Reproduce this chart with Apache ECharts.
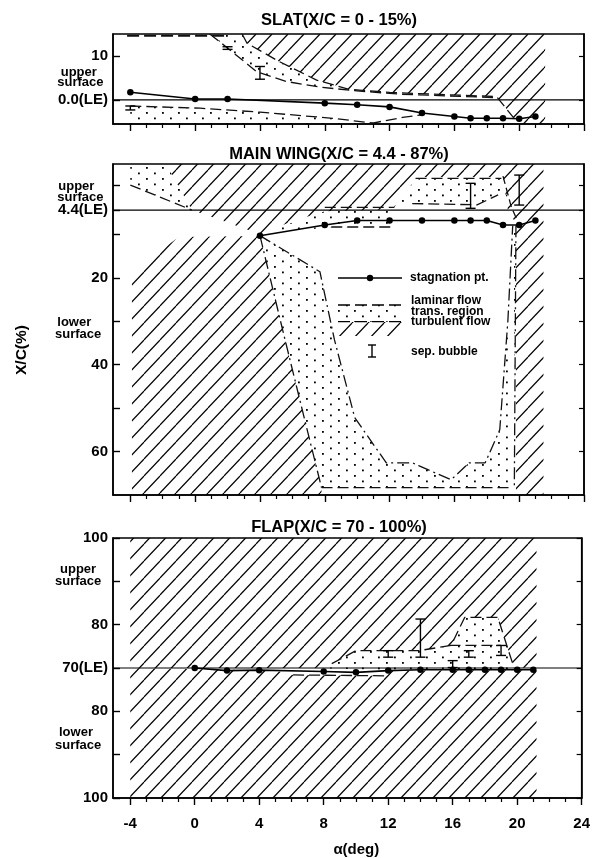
<!DOCTYPE html>
<html><head><meta charset="utf-8">
<script src="https://cdn.jsdelivr.net/npm/echarts@6/dist/echarts.min.js"></script>
<style>html,body{margin:0;padding:0;background:#fff}#c{width:593px;height:858px}</style>
</head><body><div id="c"></div><script>
// ---------------- tick values / labels ----------------
const alphaTicks = [-4,0,4,8,12,16,20,24];
const alphaMinorTicks = [-3,-2,-1,1,2,3,5,6,7,9,10,11,13,14,15,17,18,19,21,22,23];
const slatTicks = [0,10];
const slatLabelValues = [0,10];
const slatTickLabels = ['0.0(LE)','10'];
const mainTicks = [-1.2,4.4,10,20,30,40,50,60];
const mainLabelValues = [4.4,20,40,60];
const mainTickLabels = ['4.4(LE)','20','40','60'];
const flapTicks = [-30,-20,-10,0,10,20,30];
const flapLabelValues = [-30,-10,0,10,30];
const flapTickLabels = ['100','80','70(LE)','80','100'];
const panelTitles = ['SLAT(X/C = 0 - 15%)','MAIN WING(X/C = 4.4 - 87%)','FLAP(X/C = 70 - 100%)'];

// ---------------- stagnation points ----------------
const slatStagAlpha = [-4,0,2,8,10,12,14,16,17,18,19,20,21];
const slatStagX     = [1.75,0.2,0.2,-0.75,-1.1,-1.6,-3.0,-3.8,-4.2,-4.2,-4.2,-4.3,-3.8];
const mainStagAlpha = [4,8,10,12,14,16,17,18,19,20,21];
const mainStagX     = [10.3,7.85,6.8,6.8,6.8,6.8,6.8,6.8,7.85,7.85,6.8];
const flapStagAlpha = [0,2,4,8,10,12,14,16,17,18,19,20,21];
const flapStagX     = [0,-0.6,-0.5,-0.8,-1.0,-0.6,-0.4,-0.4,-0.4,-0.4,-0.4,-0.4,-0.4];

// ---------------- separation bubbles [alpha, from, to] ----------------
const slatBubbles = [[-4,-1.4,-2.3],[2,12.1,11.5],[4,7.6,4.7]];
const mainBubbles = [[17,-1.75,4.0],[20,-3.65,3.25]];
const flapBubbles = [[12,4.0,2.5],[14,11.3,2.5],[16,1.7,0.1],[17,4.0,2.5],[19,5.2,2.9]];

// ---------------- SLAT regions [alpha, x/c] ----------------
const slatTurbulent = [[2.9,15],[3.2,12.9],[5.2,8.7],[7.5,4.5],[9.5,2.4],[12,1.7],[14.7,1.3],[18.6,0.75],[19.7,-4.3],[20.1,-5.5],[21.6,-5.5],[21.6,15]];
const slatTransUpper = [[0.9,15],[1.9,12.1],[3.8,6.4],[5.6,4.2],[7.7,2.9],[9.8,2.1],[12.6,1.3],[18.6,0.5],[18.6,0.75],[14.7,1.3],[12,1.7],[9.5,2.4],[7.5,4.5],[5.2,8.7],[3.2,12.9],[2.9,15]];
const slatTransLower = [[-4,-1.4],[0.3,-1.9],[4,-2.8],[8.5,-4.2],[11,-5.5],[-4,-5.5]];
const slatTopDash = [[-4.2,14.6],[2.0,14.6]];
const slatTransStartLine = [[0.9,15],[1.9,12.1],[3.8,6.4],[5.6,4.2],[7.7,2.9],[9.8,2.1],[12.6,1.3],[18.6,0.5]];
const slatTurbEdgeLine = [[2.9,15],[3.2,12.9],[5.2,8.7],[7.5,4.5],[9.5,2.4],[12,1.7],[14.7,1.3],[18.6,0.75],[19.7,-4.3]];
const slatLowerLine = [[-4,-1.4],[0.3,-1.9],[4,-2.8],[8.5,-4.2],[11,-5.3]];
const slatLowerLine2 = [[10.8,-5.4],[12.8,-4.0],[14,-3.4]];

// ---------------- MAIN WING regions (lower-surface x/c downwards; upper = 8.8 - x/c) ----------------
const mainTurbulentUpper = [[-1.8,-6.2],[-0.2,4.4],[4,9.9],[6,7.0],[8,4.7],[12,4.3],[13.2,-1],[14,-3.2],[19,-3.2],[19.3,4.4],[19.8,7.5],[19.8,70],[21.5,70],[21.5,-6.2]];
const mainTurbulentLower = [[-3.9,18.5],[-1,10.6],[4,10.4],[5.4,32],[6.65,51],[7.8,68.3],[7.8,70],[-3.9,70]];
const mainTransTopLeft = [[-4,-6.2],[-1.8,-6.2],[-0.2,4.4],[-4,-1.35]];
const mainTransUpperRight = [[12.2,4.0],[13.2,-1],[14,-3.2],[19,-3.2],[19.3,2.0],[18.7,0.9],[17.4,3.2],[12.5,3.0]];
const mainTransNose = [[4,10.3],[8,8.4],[12,8.2],[12.3,4.3],[8,4.7],[4,9.9]];
const mainTransLower = [[4,10.3],[5.4,32],[6.65,51],[7.8,68.3],[19.6,68.3],[19.8,7.9],[19.6,8],[19.3,30],[18.8,55],[17.9,62.6],[16.9,62.6],[15.8,66.5],[13.4,62.6],[11.8,62.6],[9.85,52.2],[8.6,34.3],[7.7,18.6]];
const mainLaminarEdge = [[4,10.3],[7.7,18.6],[8.6,34.3],[9.85,52.2],[11.8,62.6],[13.4,62.6],[15.8,66.5],[16.9,62.6],[17.9,62.6],[18.8,55],[19.3,30],[19.6,8]];
const mainTurbEdge = [[4,10.3],[5.4,32],[6.65,51],[7.8,68.3]];
const mainBottomLine = [[7.8,68.3],[19.6,68.3]];
const mainRightLine = [[19.8,7.9],[19.7,68.3]];
const mainTopLeftLine = [[-4,-1.35],[-0.2,4.4]];
const mainNoseUpperLine = [[8,3.8],[12.3,3.8]];
const mainNoseLowerLine = [[8.4,8.3],[12.3,8.3]];
const mainUpperRightTop = [[13.6,-2.9],[18.9,-2.9]];
const mainUpperRightBottom = [[13.4,2.9],[17.4,3.2],[18.7,0.9]];
const mainVLine = [[19.0,-3.4],[19.5,3.5],[19.9,7.0]];

// ---------------- FLAP regions (upper positive, lower negative) ----------------
const flapTurbulentUpper = [[-4,30],[21.2,30],[21.2,0],[19.8,0.1],[19.1,8.2],[18.8,11.7],[16.75,11.7],[15.9,5.2],[13.9,4.0],[10,4.0],[8.5,1.0],[7.5,0],[-4,0]];
const flapTurbulentLower = [[-4,0],[5,-0.6],[6.1,-1.6],[11.9,-1.8],[12.2,-0.6],[21.2,-0.5],[21.2,-30],[-4,-30]];
const flapTrans = [[7.5,0],[8.5,1.0],[10,4.0],[13.9,4.0],[15.9,5.2],[16.75,11.7],[18.8,11.7],[19.1,8.2],[19.8,0.1],[19.8,-0.4],[12.2,-0.6]];
const flapUpperLine = [[8.5,1.0],[10,4.0],[13.9,4.0],[15.9,5.2],[16.75,11.7],[18.8,11.7],[19.1,8.2],[19.8,0.1]];
const flapInnerLine = [[15.8,5.2],[19,5.2]];
const flapLowerLine = [[6.1,-1.6],[11.9,-1.8]];

// ---------------- rendering ----------------
const FONT = '"Liberation Sans", Arial, Helvetica, sans-serif';
const X_MIN = -5.07, X_MAX = 24;
const LE = [0, 4.4, 0];

function makeHatch(){
  const w=16,h=17,c=document.createElement('canvas');c.width=w;c.height=h;
  const g=c.getContext('2d');g.strokeStyle='#000';g.lineWidth=1.2;
  for(let k=-1;k<=1;k++){g.beginPath();g.moveTo(k*w,h);g.lineTo(k*w+w,0);g.stroke();}
  return {image:c,repeat:'repeat'};
}
function makeDots(){
  const w=16,h=11,c=document.createElement('canvas');c.width=w;c.height=h;
  const g=c.getContext('2d');g.fillStyle='#000';
  g.fillRect(2,2,1.8,1.8);g.fillRect(10,7.5,1.8,1.8);
  return {image:c,repeat:'repeat'};
}
const HATCH=makeHatch(), DOTS=makeDots();

function poly(g,pts,fill,z){
  return {type:'custom',xAxisIndex:g,yAxisIndex:g,silent:true,clip:true,z:z||1,
    data:[[pts[0][0],pts[0][1]]],
    renderItem:(p,api)=>({type:'polygon',shape:{points:pts.map(q=>api.coord(q))},style:{fill:fill,stroke:null}})};
}
function dline(g,pts,dash,w){
  return {type:'line',xAxisIndex:g,yAxisIndex:g,silent:true,symbol:'none',z:3,
    data:pts,lineStyle:{color:'#111',width:w||1.3,type:dash||[11,5]},animation:false};
}
function stag(g,al,xs){
  return {type:'line',xAxisIndex:g,yAxisIndex:g,silent:true,symbol:'circle',symbolSize:6.5,z:5,
    data:al.map((a,i)=>[a,xs[i]]),lineStyle:{color:'#000',width:1.6},itemStyle:{color:'#000'}};
}
function bubbles(g,arr){
  return {type:'custom',xAxisIndex:g,yAxisIndex:g,silent:true,z:6,data:arr,encode:{x:0,y:[1,2]},
    renderItem:(p,api)=>{
      const a=api.coord([api.value(0),api.value(1)]),b=api.coord([api.value(0),api.value(2)]),w=5;
      const st={stroke:'#000',lineWidth:1.4};
      return {type:'group',children:[
        {type:'line',shape:{x1:a[0],y1:a[1],x2:b[0],y2:b[1]},style:st},
        {type:'line',shape:{x1:a[0]-w,y1:a[1],x2:a[0]+w,y2:a[1]},style:st},
        {type:'line',shape:{x1:b[0]-w,y1:b[1],x2:b[0]+w,y2:b[1]},style:st}]};
    }};
}
function leLine(g){
  return {type:'line',xAxisIndex:g,yAxisIndex:g,silent:true,symbol:'none',z:2,
    data:[[X_MIN,LE[g]],[X_MAX,LE[g]]],lineStyle:{color:'#000',width:1.2}};
}

const grids=[
  {left:113,width:471,top:34,height:90},
  {left:113,width:471,top:164,height:331},
  {left:113,width:471,top:538,height:260}
].map(o=>Object.assign(o,{show:true,borderColor:'#000',borderWidth:1.5,backgroundColor:'transparent'}));

const yCfg=[
  {min:-5.5,max:15,inverse:false,ticks:slatTicks,lv:slatLabelValues,lt:slatTickLabels},
  {min:-6.2,max:70,inverse:true,ticks:mainTicks,lv:mainLabelValues,lt:mainTickLabels},
  {min:-30,max:30,inverse:false,ticks:flapTicks,lv:flapLabelValues,lt:flapTickLabels}
];

const LBL={color:'#000',fontSize:15,fontWeight:'bold',fontFamily:FONT};
const xAxis=[],yAxis=[];
for(let g=0;g<3;g++){
  xAxis.push({type:'value',gridIndex:g,min:X_MIN,max:X_MAX,position:'bottom',
    axisLine:{show:true,onZero:false,lineStyle:{color:'#000',width:1.5}},
    axisTick:{show:true,inside:false,length:7,customValues:alphaTicks,lineStyle:{color:'#000',width:1.4}},
    axisLabel:Object.assign({show:g===2,customValues:alphaTicks,margin:18,showMinLabel:true,showMaxLabel:true},LBL),
    splitLine:{show:false},
    name:g===2?'α(deg)':'',nameLocation:'middle',nameGap:44,
    nameTextStyle:Object.assign({padding:[0,0,0,18]},LBL)});
}
for(let g=0;g<3;g++){
  xAxis.push({type:'value',gridIndex:g,min:X_MIN,max:X_MAX,position:'bottom',
    axisLine:{show:false,onZero:false},
    axisTick:{show:true,inside:false,length:4,customValues:alphaMinorTicks,lineStyle:{color:'#000',width:1.2}},
    axisLabel:{show:false},splitLine:{show:false}});
}
for(let g=0;g<3;g++){
  const c=yCfg[g];
  yAxis.push({type:'value',gridIndex:g,min:c.min,max:c.max,inverse:c.inverse,position:'left',
    axisLine:{show:true,onZero:false,lineStyle:{color:'#000',width:1.5}},
    axisTick:{show:true,inside:true,length:7,customValues:c.ticks,lineStyle:{color:'#000',width:1.4}},
    axisLabel:Object.assign({show:true,customValues:c.lv,margin:5,showMinLabel:true,showMaxLabel:true,
      formatter:v=>{const i=c.lv.findIndex(q=>Math.abs(q-v)<1e-6);return i>=0?c.lt[i]:'';}},LBL),
    splitLine:{show:false}});
}
for(let g=0;g<3;g++){
  const c=yCfg[g];
  yAxis.push({type:'value',gridIndex:g,min:c.min,max:c.max,inverse:c.inverse,position:'right',
    axisLine:{show:true,onZero:false,lineStyle:{color:'#000',width:1.5}},
    axisTick:{show:true,inside:true,length:5,customValues:c.ticks,lineStyle:{color:'#000',width:1.2}},
    axisLabel:{show:false},splitLine:{show:false}});
}

const series=[
  // slat
  poly(0,slatTurbulent,HATCH),poly(0,slatTransUpper,DOTS),poly(0,slatTransLower,DOTS),
  dline(0,slatTopDash,[12,5],2),dline(0,slatTransStartLine),dline(0,slatTurbEdgeLine),
  dline(0,slatLowerLine),dline(0,slatLowerLine2),
  leLine(0),stag(0,slatStagAlpha,slatStagX),bubbles(0,slatBubbles),
  // main wing
  poly(1,mainTurbulentUpper,HATCH),poly(1,mainTurbulentLower,HATCH),
  poly(1,mainTransTopLeft,DOTS),poly(1,mainTransUpperRight,DOTS),poly(1,mainTransNose,DOTS),poly(1,mainTransLower,DOTS),
  dline(1,mainLaminarEdge,[12,4,2,4]),dline(1,mainTurbEdge,[12,4,2,4]),dline(1,mainBottomLine),
  dline(1,mainRightLine,[12,4,2,4]),dline(1,mainTopLeftLine),dline(1,mainNoseUpperLine),dline(1,mainNoseLowerLine),
  dline(1,mainUpperRightTop),dline(1,mainUpperRightBottom),dline(1,mainVLine,[8,4]),
  leLine(1),stag(1,mainStagAlpha,mainStagX),bubbles(1,mainBubbles),
  // flap
  poly(2,flapTurbulentUpper,HATCH),poly(2,flapTurbulentLower,HATCH),poly(2,flapTrans,DOTS),
  dline(2,flapUpperLine),dline(2,flapInnerLine),dline(2,flapLowerLine),
  leLine(2),stag(2,flapStagAlpha,flapStagX),bubbles(2,flapBubbles)
];

function txt(x,y,s,size,align,rot){
  return {type:'text',x:x,y:y,rotation:rot||0,silent:true,z:10,
    style:{text:s,fontSize:size,fontWeight:'bold',fontFamily:FONT,fill:'#000',align:align||'left',verticalAlign:'middle'}};
}
const graphic=[
  txt(339,20.5,panelTitles[0],16.5,'center'),
  txt(339,154.5,panelTitles[1],16.5,'center'),
  txt(339,527.5,panelTitles[2],16.5,'center'),
  txt(22,350,'X/C(%)',15.5,'center',Math.PI/2),
  txt(60.7,72,'upper',13),txt(57.3,82.5,'surface',13),
  txt(58.3,186.5,'upper',13),txt(57.3,197.5,'surface',13),
  txt(57.3,322.5,'lower',13),txt(55,334,'surface',13),
  txt(60,569.5,'upper',13),txt(55,581.5,'surface',13),
  txt(59,732.5,'lower',13),txt(55,745.5,'surface',13),
  // legend
  {type:'line',silent:true,z:10,shape:{x1:338,y1:278,x2:402,y2:278},style:{stroke:'#000',lineWidth:1.6}},
  {type:'circle',silent:true,z:11,shape:{cx:370,cy:278,r:3.2},style:{fill:'#000'}},
  txt(410,278,'stagnation pt.',12),
  {type:'rect',silent:true,z:10,shape:{x:338,y:305,width:64,height:16.7},style:{fill:DOTS}},
  {type:'rect',silent:true,z:10,shape:{x:338,y:322,width:64,height:14},style:{fill:HATCH}},
  {type:'line',silent:true,z:11,shape:{x1:338,y1:305,x2:402,y2:305},style:{stroke:'#000',lineWidth:1.3,lineDash:[12,5]}},
  {type:'line',silent:true,z:11,shape:{x1:338,y1:321.7,x2:402,y2:321.7},style:{stroke:'#000',lineWidth:1.3,lineDash:[12,5]}},
  txt(411,301,'laminar flow',12),txt(411,311.5,'trans. region',12),txt(411,322,'turbulent flow',12),
  {type:'line',silent:true,z:10,shape:{x1:372,y1:345,x2:372,y2:357},style:{stroke:'#000',lineWidth:1.4}},
  {type:'line',silent:true,z:10,shape:{x1:368,y1:345,x2:376,y2:345},style:{stroke:'#000',lineWidth:1.4}},
  {type:'line',silent:true,z:10,shape:{x1:368,y1:357,x2:376,y2:357},style:{stroke:'#000',lineWidth:1.4}},
  txt(411,352,'sep. bubble',12)
];

const chart=echarts.init(document.getElementById('c'),null,{renderer:'canvas'});
chart.setOption({animation:false,backgroundColor:'#fff',grid:grids,xAxis:xAxis,yAxis:yAxis,series:series,graphic:graphic});
</script></body></html>
